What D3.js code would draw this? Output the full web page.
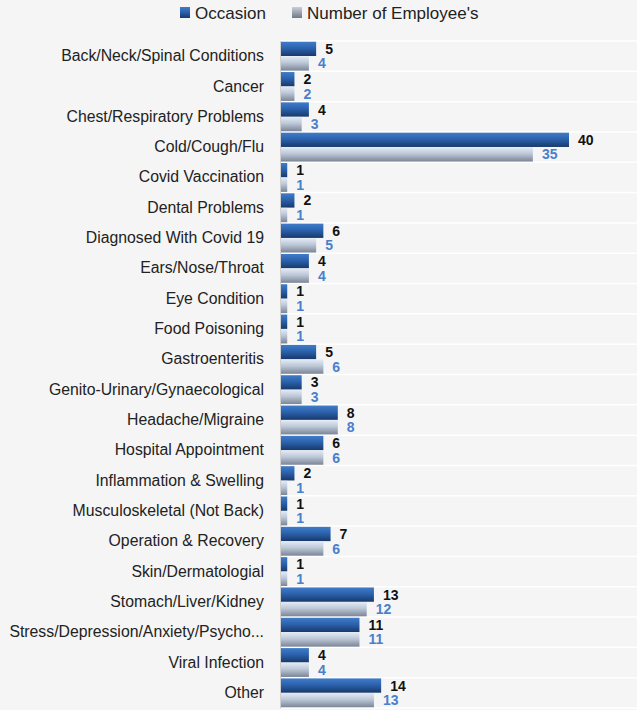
<!DOCTYPE html>
<html><head><meta charset="utf-8">
<script src="https://cdn.jsdelivr.net/npm/d3@7"></script>
<style>body{margin:0;background:#f5f5f5}svg{display:block}</style>
</head><body>
<script>
const categories = ["Back/Neck/Spinal Conditions","Cancer","Chest/Respiratory Problems","Cold/Cough/Flu","Covid Vaccination","Dental Problems","Diagnosed With Covid 19","Ears/Nose/Throat","Eye Condition","Food Poisoning","Gastroenteritis","Genito-Urinary/Gynaecological","Headache/Migraine","Hospital Appointment","Inflammation & Swelling","Musculoskeletal (Not Back)","Operation & Recovery","Skin/Dermatologial","Stomach/Liver/Kidney","Stress/Depression/Anxiety/Psycho...","Viral Infection","Other"];
const occasion = [5,2,4,40,1,2,6,4,1,1,5,3,8,6,2,1,7,1,13,11,4,14];
const employees = [4,2,3,35,1,1,5,4,1,1,6,3,8,6,1,1,6,1,12,11,4,13];
const seriesNames = ["Occasion","Number of Employee's"];

const W=637,H=710;
const FONT="Liberation Sans, Arial, sans-serif";
const svg=d3.select("body").append("svg").attr("width",W).attr("height",H);
svg.append("rect").attr("width",W).attr("height",H).attr("fill","#f5f5f5");
const defs=svg.append("defs");
function grad(id,stops){const g=defs.append("linearGradient").attr("id",id).attr("x1",0).attr("y1",0).attr("x2",0).attr("y2",1);
 stops.forEach(s=>g.append("stop").attr("offset",s[0]).attr("stop-color",s[1]));}
grad("gOcc",[[0,"#3f7cc9"],[0.45,"#2c62ad"],[1,"#17396b"]]);
grad("gEmp",[[0,"#e4ebf5"],[0.45,"#bcc7d8"],[1,"#7b8596"]]);
grad("gLegE",[[0,"#c8cfd9"],[1,"#6f7886"]]);

const x0=280;
const x=d3.scaleLinear().domain([0,40]).range([x0,569]);
const y=d3.scaleBand().domain(categories).range([41,708]).paddingInner(0).paddingOuter(0);
const sub=d3.scaleBand().domain(seriesNames).range([0,y.bandwidth()]).paddingInner(0.02).paddingOuter(0.05);

svg.append("g").selectAll("line").data(categories.concat(["__end"])).join("line")
 .attr("x1",x0).attr("x2",W)
 .attr("y1",(d,i)=>41+i*y.step()).attr("y2",(d,i)=>41+i*y.step())
 .attr("stroke","#ffffff").attr("stroke-width",1.5);

const rows=svg.append("g").selectAll("g").data(categories).join("g").attr("transform",d=>`translate(0,${y(d)})`);
rows.append("rect").attr("x",x0).attr("y",sub(seriesNames[0])).attr("height",sub.bandwidth())
 .attr("width",(d,i)=>x(occasion[i])-x0).attr("fill","url(#gOcc)");
rows.append("rect").attr("x",x0).attr("y",sub(seriesNames[1])).attr("height",sub.bandwidth())
 .attr("width",(d,i)=>x(employees[i])-x0).attr("fill","url(#gEmp)");
rows.append("text").attr("x",(d,i)=>x(occasion[i])+9).attr("y",sub(seriesNames[0])+sub.bandwidth()/2+5)
 .text((d,i)=>occasion[i]).attr("font-family",FONT).attr("font-weight","bold").attr("font-size",14).attr("fill","#111");
rows.append("text").attr("x",(d,i)=>x(employees[i])+9).attr("y",sub(seriesNames[1])+sub.bandwidth()/2+5)
 .text((d,i)=>employees[i]).attr("font-family",FONT).attr("font-weight","bold").attr("font-size",14).attr("fill","#4a7fcb");

const ax=svg.append("g").attr("transform",`translate(${x0},0)`).call(d3.axisLeft(y).tickSize(0).tickPadding(16));
ax.select(".domain").attr("stroke","#d0d0d0");
ax.selectAll("text").attr("font-family",FONT).attr("font-size",15.8).attr("fill","#222");

const leg=svg.append("g");
const items=[{n:seriesNames[0],x:180,f:"url(#gOcc)"},{n:seriesNames[1],x:292,f:"url(#gLegE)"}];
items.forEach(it=>{
 leg.append("rect").attr("x",it.x).attr("y",7).attr("width",10).attr("height",11).attr("fill",it.f);
 leg.append("text").attr("x",it.x+15).attr("y",19).text(it.n).attr("font-family",FONT).attr("font-size",17).attr("fill","#222");
});
</script>
</body></html>
